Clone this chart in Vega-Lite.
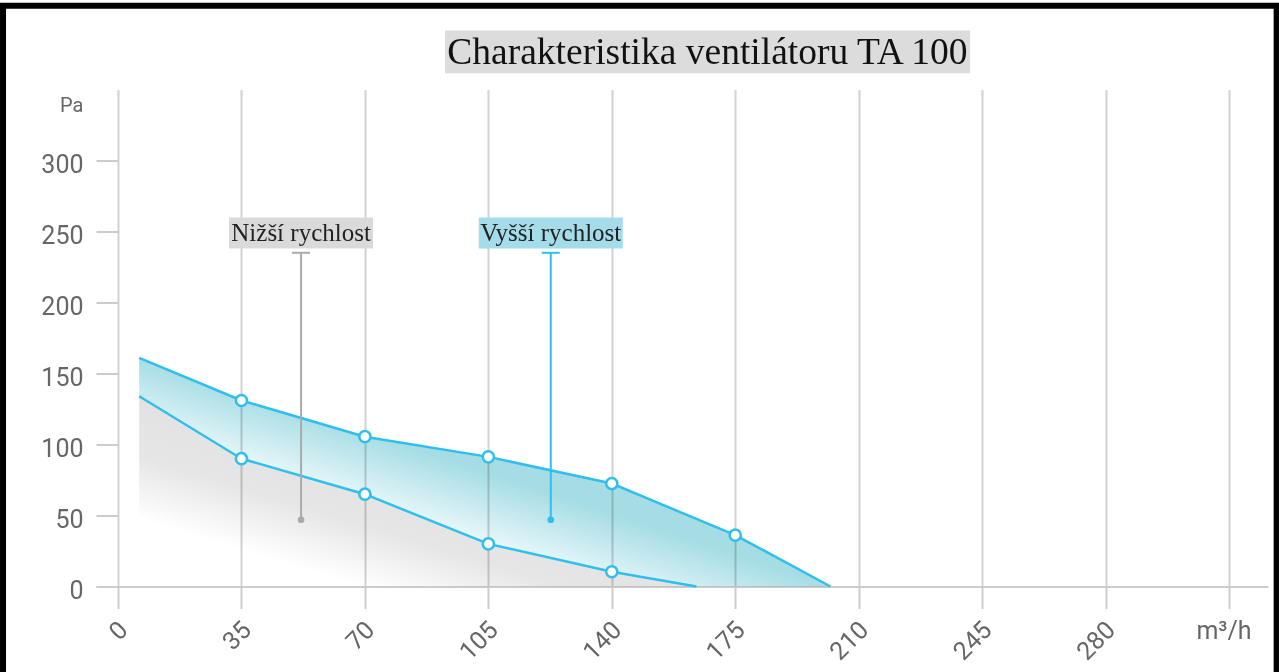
{
  "$schema": "https://vega.github.io/schema/vega-lite/v6.json",
  "width": 1172,
  "height": 497,
  "autosize": {"type": "none"},
  "padding": {"left": 96, "top": 89.5, "right": 11, "bottom": 85.5},
  "background": "white",
  "datasets": {
    "curves": [
      {"x": 6, "vyssi": 161, "nizsi": 134},
      {"x": 35, "vyssi": 131, "nizsi": 90},
      {"x": 70, "vyssi": 105.5, "nizsi": 65},
      {"x": 105, "vyssi": 91.3, "nizsi": 30},
      {"x": 140, "vyssi": 72.5, "nizsi": 10.4},
      {"x": 164, "vyssi": 47.6, "nizsi": 0},
      {"x": 175, "vyssi": 36.2, "nizsi": 0},
      {"x": 202, "vyssi": 0, "nizsi": 0}
    ],
    "notes": [
      {"speed": "Nižší", "label": "Nižší rychlost", "x": 51.9, "ytop": 235, "ybottom": 47, "ylabel": 249},
      {"speed": "Vyšší", "label": "Vyšší rychlost", "x": 122.7, "ytop": 235, "ybottom": 47, "ylabel": 249}
    ]
  },
  "layer": [
    {
      "data": {"values": [{}]},
      "mark": {"type": "rect", "clip": false, "fillOpacity": 0, "stroke": "#000000", "strokeWidth": 6},
      "encoding": {
        "x": {"datum": -32.6},
        "x2": {"datum": 328.5},
        "y": {"datum": 408.9},
        "y2": {"datum": -80}
      }
    },
    {
      "data": {"values": [{}]},
      "mark": {"type": "rect", "clip": false, "color": "#dcdcdc"},
      "encoding": {
        "x": {"datum": 92.7},
        "x2": {"datum": 241.6},
        "y": {"datum": 391.6},
        "y2": {"datum": 361.4}
      }
    },
    {
      "data": {"values": [{"title": "Charakteristika ventilátoru TA 100"}]},
      "mark": {"type": "text", "clip": false, "font": "Liberation Serif", "fontSize": 37.5, "color": "#111111", "align": "center", "baseline": "alphabetic"},
      "encoding": {
        "x": {"datum": 167.1},
        "y": {"datum": 367.7},
        "text": {"field": "title"}
      }
    },
    {
      "data": {"name": "curves"},
      "transform": [{"filter": "datum.x <= 164"}],
      "mark": {
        "type": "area",
        "clip": false,
        "blend": "multiply",
        "fill": {
          "gradient": "linear",
          "x1": 0, "y1": 0, "x2": -0.32, "y2": 0.36,
          "stops": [
            {"offset": 0, "color": "#e2e2e2"},
            {"offset": 0.5, "color": "#e6e6e6"},
            {"offset": 1, "color": "#ffffff"}
          ]
        }
      },
      "encoding": {
        "x": {"field": "x", "type": "quantitative", "title": "m³/h"},
        "y": {"field": "nizsi", "type": "quantitative", "title": "Pa"}
      }
    },
    {
      "data": {"name": "curves"},
      "mark": {
        "type": "area",
        "clip": false,
        "blend": "multiply",
        "fill": {
          "gradient": "linear",
          "x1": 0, "y1": 0, "x2": -0.175, "y2": 0.175,
          "stops": [
            {"offset": 0, "color": "#a6dde5"},
            {"offset": 1, "color": "#f2fbfc"}
          ]
        }
      },
      "encoding": {
        "x": {
          "field": "x",
          "type": "quantitative",
          "title": "m³/h",
          "scale": {"domain": [-6.24, 326.05], "nice": false, "zero": false},
          "axis": {
            "values": [0, 35, 70, 105, 140, 175, 210, 245, 280, 315],
            "labelExpr": "datum.value == 315 ? '' : datum.label",
            "labelAngle": -45,
            "labelAlign": "right",
            "labelBaseline": "middle",
            "labelPadding": 17,
            "labelOffset": 5,
            "labelOverlap": false,
            "labelFlush": false,
            "labelBound": false,
            "labelFontSize": 25,
            "tickSize": 22,
            "tickWidth": 2,
            "domainWidth": 2,
            "grid": true,
            "gridWidth": 2,
            "titleAngle": 0,
            "titleAlign": "center",
            "titleBaseline": "middle",
            "titleX": 1127.5,
            "titleY": 43.5,
            "titleFontSize": 25
          }
        },
        "y": {
          "field": "vyssi",
          "type": "quantitative",
          "title": "Pa",
          "scale": {"domain": [0, 350], "nice": false},
          "axis": {
            "values": [0, 50, 100, 150, 200, 250, 300],
            "offset": -22,
            "tickSize": 22,
            "tickWidth": 2,
            "domain": false,
            "grid": false,
            "labelPadding": 13,
            "labelOffset": 4,
            "labelFontSize": 25,
            "titleAngle": 0,
            "titleAlign": "right",
            "titleBaseline": "middle",
            "titleX": -35,
            "titleY": 16,
            "titleFontSize": 20
          }
        },
        "y2": {"field": "nizsi"}
      }
    },
    {
      "data": {"name": "curves"},
      "mark": {"type": "line", "clip": false, "color": "#2fbfee", "strokeWidth": 2.5},
      "encoding": {
        "x": {"field": "x", "type": "quantitative", "title": "m³/h"},
        "y": {"field": "vyssi", "type": "quantitative", "title": "Pa"}
      }
    },
    {
      "data": {"name": "curves"},
      "transform": [{"filter": "datum.x <= 164"}],
      "mark": {"type": "line", "clip": false, "color": "#2fbfee", "strokeWidth": 2.5},
      "encoding": {
        "x": {"field": "x", "type": "quantitative", "title": "m³/h"},
        "y": {"field": "nizsi", "type": "quantitative", "title": "Pa"}
      }
    },
    {
      "data": {"name": "curves"},
      "transform": [{"filter": "datum.x % 35 == 0 && datum.x > 0"}],
      "mark": {"type": "point", "clip": false, "filled": true, "fill": "#ffffff", "stroke": "#2fbfee", "strokeWidth": 2.5, "size": 125, "opacity": 1},
      "encoding": {
        "x": {"field": "x", "type": "quantitative", "title": "m³/h"},
        "y": {"field": "vyssi", "type": "quantitative", "title": "Pa"}
      }
    },
    {
      "data": {"name": "curves"},
      "transform": [{"filter": "datum.x % 35 == 0 && datum.x > 0 && datum.x <= 164"}],
      "mark": {"type": "point", "clip": false, "filled": true, "fill": "#ffffff", "stroke": "#2fbfee", "strokeWidth": 2.5, "size": 125, "opacity": 1},
      "encoding": {
        "x": {"field": "x", "type": "quantitative", "title": "m³/h"},
        "y": {"field": "nizsi", "type": "quantitative", "title": "Pa"}
      }
    },
    {
      "data": {"name": "notes"},
      "mark": {"type": "rule", "clip": false, "strokeWidth": 2},
      "encoding": {
        "x": {"field": "x", "type": "quantitative", "title": "m³/h"},
        "y": {"field": "ybottom", "type": "quantitative", "title": "Pa"},
        "y2": {"field": "ytop"},
        "color": {"field": "speed", "type": "nominal", "scale": {"domain": ["Nižší", "Vyšší"], "range": ["#aaaaaa", "#2fbfee"]}, "legend": null}
      }
    },
    {
      "data": {"name": "notes"},
      "mark": {"type": "point", "clip": false, "shape": "stroke", "filled": false, "strokeWidth": 2, "size": 324, "opacity": 1},
      "encoding": {
        "x": {"field": "x", "type": "quantitative", "title": "m³/h"},
        "y": {"field": "ytop", "type": "quantitative", "title": "Pa"},
        "color": {"field": "speed", "type": "nominal", "legend": null}
      }
    },
    {
      "data": {"name": "notes"},
      "mark": {"type": "point", "clip": false, "shape": "circle", "filled": true, "size": 45, "opacity": 1},
      "encoding": {
        "x": {"field": "x", "type": "quantitative", "title": "m³/h"},
        "y": {"field": "ybottom", "type": "quantitative", "title": "Pa"},
        "color": {"field": "speed", "type": "nominal", "legend": null}
      }
    },
    {
      "data": {"name": "notes"},
      "mark": {"type": "rect", "clip": false, "width": 144, "height": 31},
      "encoding": {
        "x": {"field": "x", "type": "quantitative", "title": "m³/h"},
        "y": {"field": "ylabel", "type": "quantitative", "title": "Pa"},
        "fill": {"field": "speed", "type": "nominal", "scale": {"domain": ["Nižší", "Vyšší"], "range": ["#dadada", "#a4dce9"]}, "legend": null}
      }
    },
    {
      "data": {"name": "notes"},
      "mark": {"type": "text", "clip": false, "font": "Liberation Serif", "fontSize": 25, "color": "#222222", "baseline": "middle", "align": "center"},
      "encoding": {
        "x": {"field": "x", "type": "quantitative", "title": "m³/h"},
        "y": {"field": "ylabel", "type": "quantitative", "title": "Pa"},
        "text": {"field": "label"}
      }
    }
  ],
  "config": {
    "view": {"stroke": null},
    "axis": {
      "labelFont": "Roboto",
      "titleFont": "Roboto",
      "labelColor": "#666666",
      "titleColor": "#666666",
      "titleFontWeight": "normal",
      "domainColor": "#cccccc",
      "tickColor": "#cccccc",
      "gridColor": "#d2d2d2"
    }
  }
}
